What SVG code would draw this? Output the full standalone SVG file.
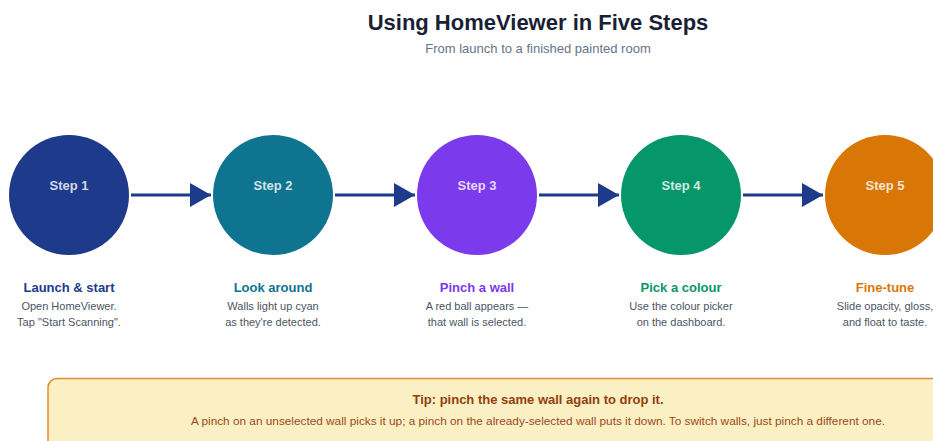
<svg xmlns="http://www.w3.org/2000/svg" width="933" height="441" viewBox="0 0 933 441">
<defs>
<style>
text{font-family:"Liberation Sans",Arial,sans-serif;text-anchor:middle}
.title{font-size:22px;font-weight:bold;fill:#1a1f36}
.sub{font-size:13px;fill:#64748b}
.step{font-size:13px;font-weight:bold;fill:#ffffff;fill-opacity:0.82}
.lbl{font-size:13px;font-weight:bold}
.desc{font-size:11px;fill:#4b5563}
.conn{stroke:#1e3a8a;stroke-width:3;fill:none}
.tipt{font-size:13px;font-weight:bold;fill:#92400e}
.tipb{font-size:11.8px;fill:#9c4a1a}
</style>
<marker id="ah" markerWidth="8" markerHeight="8" refX="7" refY="4" orient="auto" markerUnits="strokeWidth">
<path d="M0,0 L7,4 L0,8 z" fill="#1e3a8a"/>
</marker>
</defs>
<rect width="933" height="441" fill="#ffffff"/>
<text class="title" x="538" y="30">Using HomeViewer in Five Steps</text>
<text class="sub" x="538" y="53">From launch to a finished painted room</text>
<g id="connectors">
<line class="conn" x1="131" y1="195" x2="211" y2="195" marker-end="url(#ah)"/>
<line class="conn" x1="335" y1="195" x2="415" y2="195" marker-end="url(#ah)"/>
<line class="conn" x1="539" y1="195" x2="619" y2="195" marker-end="url(#ah)"/>
<line class="conn" x1="743" y1="195" x2="823" y2="195" marker-end="url(#ah)"/>
</g>
<g id="step1">
<circle cx="69" cy="195" r="60" fill="#1e3a8a"/>
<text class="step" x="69" y="190">Step 1</text>
<text class="lbl" x="69" y="292" fill="#1e3a8a">Launch &amp; start</text>
<text class="desc" x="69" y="310">Open HomeViewer.</text>
<text class="desc" x="69" y="326">Tap "Start Scanning".</text>
</g>
<g id="step2">
<circle cx="273" cy="195" r="60" fill="#0e7490"/>
<text class="step" x="273" y="190">Step 2</text>
<text class="lbl" x="273" y="292" fill="#0e7490">Look around</text>
<text class="desc" x="273" y="310">Walls light up cyan</text>
<text class="desc" x="273" y="326">as they're detected.</text>
</g>
<g id="step3">
<circle cx="477" cy="195" r="60" fill="#7c3aed"/>
<text class="step" x="477" y="190">Step 3</text>
<text class="lbl" x="477" y="292" fill="#7c3aed">Pinch a wall</text>
<text class="desc" x="477" y="310">A red ball appears —</text>
<text class="desc" x="477" y="326">that wall is selected.</text>
</g>
<g id="step4">
<circle cx="681" cy="195" r="60" fill="#059669"/>
<text class="step" x="681" y="190">Step 4</text>
<text class="lbl" x="681" y="292" fill="#059669">Pick a colour</text>
<text class="desc" x="681" y="310">Use the colour picker</text>
<text class="desc" x="681" y="326">on the dashboard.</text>
</g>
<g id="step5">
<circle cx="885" cy="195" r="60" fill="#d97706"/>
<text class="step" x="885" y="190">Step 5</text>
<text class="lbl" x="885" y="292" fill="#d97706">Fine-tune</text>
<text class="desc" x="885" y="310">Slide opacity, gloss,</text>
<text class="desc" x="885" y="326">and float to taste.</text>
</g>
<g id="tip">
<rect x="48" y="378.5" width="980" height="80" rx="9" fill="#fbefc4" stroke="#e38b2e" stroke-width="1.5"/>
<text class="tipt" x="538" y="404">Tip: pinch the same wall again to drop it.</text>
<text class="tipb" x="538" y="425">A pinch on an unselected wall picks it up; a pinch on the already-selected wall puts it down. To switch walls, just pinch a different one.</text>
</g>
</svg>
